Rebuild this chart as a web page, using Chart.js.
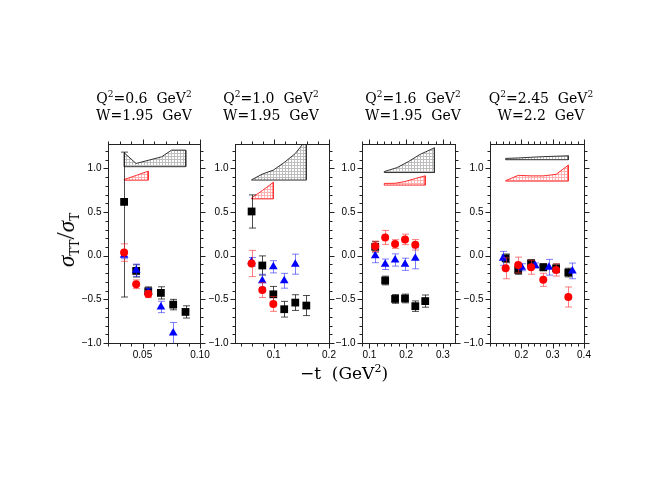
<!DOCTYPE html>
<html>
<head>
<meta charset="utf-8">
<script src="https://cdn.jsdelivr.net/npm/chart.js@4/dist/chart.umd.min.js"></script>
<style>
  body { margin: 0; background: #fff; }
  #wrap { position: relative; width: 648px; height: 501px; overflow: hidden; }
  #wrap canvas { position: absolute; left: 0; top: 0; }
  .ttl { position: absolute; transform: translateX(-50%); white-space: nowrap; text-align: center;
         font-family: "DejaVu Serif", serif; font-size: 14px; line-height: 17px; color: #000; }
  .ttl sup { font-size: 9px; line-height: 0; vertical-align: 6px; }
  #xtitle { position: absolute; left: 344px; top: 373px; transform: translate(-50%, -50%); white-space: nowrap;
            font-family: "DejaVu Serif", serif; font-size: 17px; color: #000; }
  #xtitle sup { font-size: 11px; line-height: 0; vertical-align: 7px; }
  #ytitle { position: absolute; left: 66px; top: 240px; transform: translate(-50%, -50%) rotate(-90deg);
            white-space: nowrap; font-family: "Liberation Serif", serif; font-size: 22px; color: #000; }
  #ytitle i { font-size: 23px; }
  #ytitle sub { font-size: 12px; font-family: "DejaVu Serif", serif; vertical-align: -5px; line-height: 0; }
  #ytitle .sl { font-size: 26px; }
</style>
</head>
<body>
<div id="wrap">
  <canvas id="p0" width="648" height="501"></canvas>
  <canvas id="p1" width="648" height="501"></canvas>
  <canvas id="p2" width="648" height="501"></canvas>
  <canvas id="p3" width="648" height="501"></canvas>
  <div class="ttl" style="left:144px;top:90px">Q<sup>2</sup>=0.6&nbsp; GeV<sup>2</sup><br>W=1.95&nbsp; GeV</div>
  <div class="ttl" style="left:271px;top:90px">Q<sup>2</sup>=1.0&nbsp; GeV<sup>2</sup><br>W=1.95&nbsp; GeV</div>
  <div class="ttl" style="left:413px;top:90px">Q<sup>2</sup>=1.6&nbsp; GeV<sup>2</sup><br>W=1.95&nbsp; GeV</div>
  <div class="ttl" style="left:541px;top:90px">Q<sup>2</sup>=2.45&nbsp; GeV<sup>2</sup><br>W=2.2&nbsp; GeV</div>
  <div id="xtitle">&minus;t&nbsp; (GeV<sup>2</sup>)</div>
  <div id="ytitle"><i>σ</i><sub>TT</sub><span class="sl">/</span><i>σ</i><sub>T</sub></div>
</div>
<script>
// x ranges and ticks of the four panels
const xMin = [0.02, 0.03, 0.08, 0.10];
const xMax = [0.10, 0.20, 0.333, 0.40];
const xMinorStep = [0.01, 0.02, 0.02, 0.02];
const xTickLabels = [['0.05', '0.10'], ['0.1', '0.2'], ['0.1', '0.2', '0.3'], ['0.2', '0.3', '0.4']];
const yMin = -1.0, yMax = 1.28;
const yTickLabels = ['\u22121.0', '\u22120.5', '0.0', '0.5', '1.0'];
const yTickValues = [-1.0, -0.5, 0.0, 0.5, 1.0];

// black squares
const blackT = [
  [0.034, 0.0445, 0.055, 0.066, 0.0767, 0.0874],
  [0.060, 0.0794, 0.0993, 0.119, 0.139, 0.159],
  [0.116, 0.143, 0.170, 0.197, 0.225, 0.252],
  [0.150, 0.190, 0.231, 0.270, 0.311, 0.350]
];
const blackR = [
  [0.617, -0.174, -0.407, -0.426, -0.56, -0.644],
  [0.507, -0.112, -0.442, -0.613, -0.537, -0.571],
  [0.102, -0.284, -0.495, -0.49, -0.578, -0.52],
  [-0.03, -0.163, -0.087, -0.132, -0.144, -0.193]
];
const blackErr = [
  [[1.09, 0.57], 0.07, 0.05, 0.07, 0.06, 0.07],
  [0.19, 0.11, 0.09, 0.09, 0.09, 0.115],
  [0.06, 0.05, 0.05, 0.05, 0.06, 0.07],
  [0.05, 0.05, 0.04, 0.04, 0.05, 0.05]
];

// red circles
const redT = [
  [0.034, 0.0445, 0.055],
  [0.060, 0.0794, 0.0993],
  [0.116, 0.143, 0.170, 0.197, 0.225],
  [0.150, 0.190, 0.231, 0.270, 0.311, 0.350]
];
const redR = [
  [0.036, -0.327, -0.44],
  [-0.089, -0.393, -0.552],
  [0.108, 0.21, 0.134, 0.187, 0.125],
  [-0.144, -0.106, -0.132, -0.276, -0.163, -0.473]
];
const redErr = [
  [0.1, 0.05, 0.04],
  [0.15, 0.085, 0.085],
  [0.06, 0.08, 0.05, 0.06, 0.06],
  [0.12, 0.09, 0.08, 0.075, 0.07, 0.115]
];

// blue triangles
const blueT = [
  [0.034, 0.0445, 0.055, 0.066, 0.0767],
  [0.060, 0.0794, 0.0993, 0.119, 0.139],
  [0.116, 0.143, 0.170, 0.197, 0.225],
  [0.142, 0.201, 0.244, 0.288, 0.363]
];
const blueR = [
  [0.006, -0.166, -0.415, -0.587, -0.885],
  [-0.07, -0.287, -0.127, -0.287, -0.097],
  [0.0, -0.098, -0.049, -0.098, -0.03],
  [-0.03, -0.132, -0.113, -0.132, -0.174]
];
const blueErr = [
  [0.04, 0.07, 0.04, 0.065, 0.12],
  [0.05, 0.075, 0.07, 0.085, 0.115],
  [0.08, 0.06, 0.07, 0.07, 0.12],
  [0.08, 0.04, 0.03, 0.09, 0.09]
];

// systematic error bands
const sysBlackT = [
  [0.034, 0.0444, 0.0666, 0.0753, 0.0876],
  [0.060, 0.0794, 0.0993, 0.119, 0.139, 0.159],
  [0.1405, 0.175, 0.206, 0.238, 0.277],
  [0.150, 0.190, 0.231, 0.270, 0.311, 0.350]
];
const sysBlackTop = [
  [1.18, 1.057, 1.133, 1.21, 1.21],
  [0.87, 0.935, 0.981, 1.068, 1.171, 1.33],
  [0.964, 1.009, 1.078, 1.161, 1.236],
  [1.115, 1.12, 1.128, 1.135, 1.14, 1.145]
];
const sysBlackBase = [1.02, 0.867, 0.953, 1.10];
const sysRedT = [
  [0.034, 0.0445, 0.055],
  [0.060, 0.0794, 0.0993],
  [0.1405, 0.170, 0.197, 0.225, 0.252],
  [0.150, 0.190, 0.231, 0.270, 0.311, 0.350]
];
const sysRedTop = [
  [0.873, 0.92, 0.969],
  [0.662, 0.746, 0.841],
  [0.828, 0.83, 0.85, 0.885, 0.915],
  [0.86, 0.921, 0.915, 0.915, 0.932, 1.038]
];
const sysRedBase = [0.866, 0.651, 0.809, 0.855];

// panel frames in page pixels
const W = 648, H = 501;
const frameLeft = [108, 235, 362, 490];
const frameRight = [200, 329, 455, 584];
const frameTop = 144, frameBottom = 343;

function hatch(ctx, color) {
  const c = document.createElement('canvas');
  c.width = 3; c.height = 3;
  const g = c.getContext('2d');
  g.fillStyle = '#fff';
  g.fillRect(0, 0, 3, 3);
  g.fillStyle = color;
  g.fillRect(0, 0, 3, 1);
  g.fillRect(0, 0, 1, 3);
  return ctx.createPattern(c, 'repeat');
}

function polygon(ts, tops, base) {
  const pts = [{x: ts[0], y: base}];
  ts.forEach((t, k) => pts.push({x: t, y: tops[k]}));
  pts.push({x: ts[ts.length - 1], y: base}, {x: ts[0], y: base});
  return pts;
}

function points(ts, rs) {
  return ts.map((t, k) => ({x: t, y: rs[k]}));
}

// error bars, drawn just before the markers of a dataset
const errorBars = {
  id: 'errorBars',
  beforeDatasetDraw(chart, args) {
    const ds = chart.data.datasets[args.index];
    if (!ds.errors) return;
    const {ctx} = chart;
    const y = chart.scales.y;
    ctx.save();
    ctx.strokeStyle = ds.errorColor;
    ctx.lineWidth = 1;
    args.meta.data.forEach((pt, k) => {
      const e = ds.errors[k];
      const lo = Array.isArray(e) ? e[0] : e;
      const hi = Array.isArray(e) ? e[1] : e;
      const v = ds.data[k].y;
      const px = Math.round(pt.x) + 0.5;
      const y1 = y.getPixelForValue(v - lo);
      const y2 = y.getPixelForValue(v + hi);
      ctx.beginPath();
      ctx.moveTo(px, y1); ctx.lineTo(px, y2);
      ctx.moveTo(px - 3.5, y1); ctx.lineTo(px + 3.5, y1);
      ctx.moveTo(px - 3.5, y2); ctx.lineTo(px + 3.5, y2);
      ctx.stroke();
    });
    ctx.restore();
  }
};

// frame with ticks on all four sides, tick labels left and bottom
const frame = {
  id: 'frame',
  afterDraw(chart, args, opts) {
    const {ctx, chartArea: a} = chart;
    const x = chart.scales.x, y = chart.scales.y;
    const l = Math.round(a.left) + 0.5, r = Math.round(a.right) + 0.5;
    const t = Math.round(a.top) + 0.5, b = Math.round(a.bottom) + 0.5;
    ctx.save();
    ctx.strokeStyle = '#222';
    ctx.lineWidth = 1;
    ctx.strokeRect(l, t, r - l, b - t);
    ctx.beginPath();
    const majX = opts.labels.map(parseFloat);
    for (let v = opts.step * Math.ceil(x.min / opts.step - 1e-6); v <= x.max + 1e-9; v += opts.step) {
      const px = Math.round(x.getPixelForValue(v)) + 0.5;
      const len = majX.some(m => Math.abs(m - v) < 1e-6) ? 5 : 3;
      ctx.moveTo(px, b); ctx.lineTo(px, b + len);
      ctx.moveTo(px, t); ctx.lineTo(px, t - len);
    }
    for (let k = -10; k <= 12; k++) {
      const v = k / 10;
      const py = Math.round(y.getPixelForValue(v)) + 0.5;
      const len = k % 5 === 0 ? 5 : 3;
      ctx.moveTo(l, py); ctx.lineTo(l - len, py);
      ctx.moveTo(r, py); ctx.lineTo(r + len, py);
    }
    ctx.stroke();
    ctx.fillStyle = '#000';
    ctx.font = '10px "Liberation Sans", Arial, sans-serif';
    ctx.textAlign = 'center';
    ctx.textBaseline = 'top';
    opts.labels.forEach((s, k) => {
      ctx.fillText(s, x.getPixelForValue(majX[k]), b + 7);
    });
    ctx.textAlign = 'right';
    ctx.textBaseline = 'middle';
    yTickValues.forEach((v, k) => {
      ctx.fillText(yTickLabels[k], l - 7, y.getPixelForValue(v));
    });
    ctx.restore();
  }
};

for (let i = 0; i < 4; i++) {
  const ctx = document.getElementById('p' + i).getContext('2d');
  new Chart(ctx, {
    type: 'scatter',
    data: {
      datasets: [
        {
          data: points(redT[i], redR[i]), errors: redErr[i], errorColor: 'rgba(255,40,40,0.6)',
          pointStyle: 'circle', pointRadius: 4, backgroundColor: '#ff0000', borderColor: '#ff0000',
          borderWidth: 0, order: 0
        },
        {
          data: points(blueT[i], blueR[i]), errors: blueErr[i], errorColor: 'rgba(40,40,255,0.6)',
          pointStyle: 'triangle', pointRadius: 5, backgroundColor: '#0000ff', borderColor: '#0000ff',
          borderWidth: 0, order: 1
        },
        {
          data: points(blackT[i], blackR[i]), errors: blackErr[i], errorColor: 'rgba(0,0,0,0.7)',
          pointStyle: 'rect', pointRadius: 5.5, backgroundColor: '#000', borderColor: '#000',
          borderWidth: 0, order: 2
        },
        {
          data: polygon(sysRedT[i], sysRedTop[i], sysRedBase[i]), showLine: true, fill: 'shape',
          backgroundColor: hatch(ctx, '#ffb0b0'), borderColor: '#ff3030', borderWidth: 1,
          pointRadius: 0, order: 3
        },
        {
          data: polygon(sysBlackT[i], sysBlackTop[i], sysBlackBase[i]), showLine: true, fill: 'shape',
          backgroundColor: hatch(ctx, '#bdbdbd'), borderColor: '#333', borderWidth: 1,
          pointRadius: 0, order: 4
        }
      ]
    },
    options: {
      responsive: false,
      animation: false,
      events: [],
      layout: {
        autoPadding: false,
        padding: {left: frameLeft[i], right: W - frameRight[i], top: frameTop, bottom: H - frameBottom}
      },
      scales: {
        x: {type: 'linear', min: xMin[i], max: xMax[i], display: false},
        y: {type: 'linear', min: yMin, max: yMax, display: false}
      },
      elements: {line: {tension: 0}},
      plugins: {
        legend: {display: false},
        tooltip: {enabled: false},
        frame: {step: xMinorStep[i], labels: xTickLabels[i]}
      }
    },
    plugins: [errorBars, frame]
  });
}
</script>
</body>
</html>
